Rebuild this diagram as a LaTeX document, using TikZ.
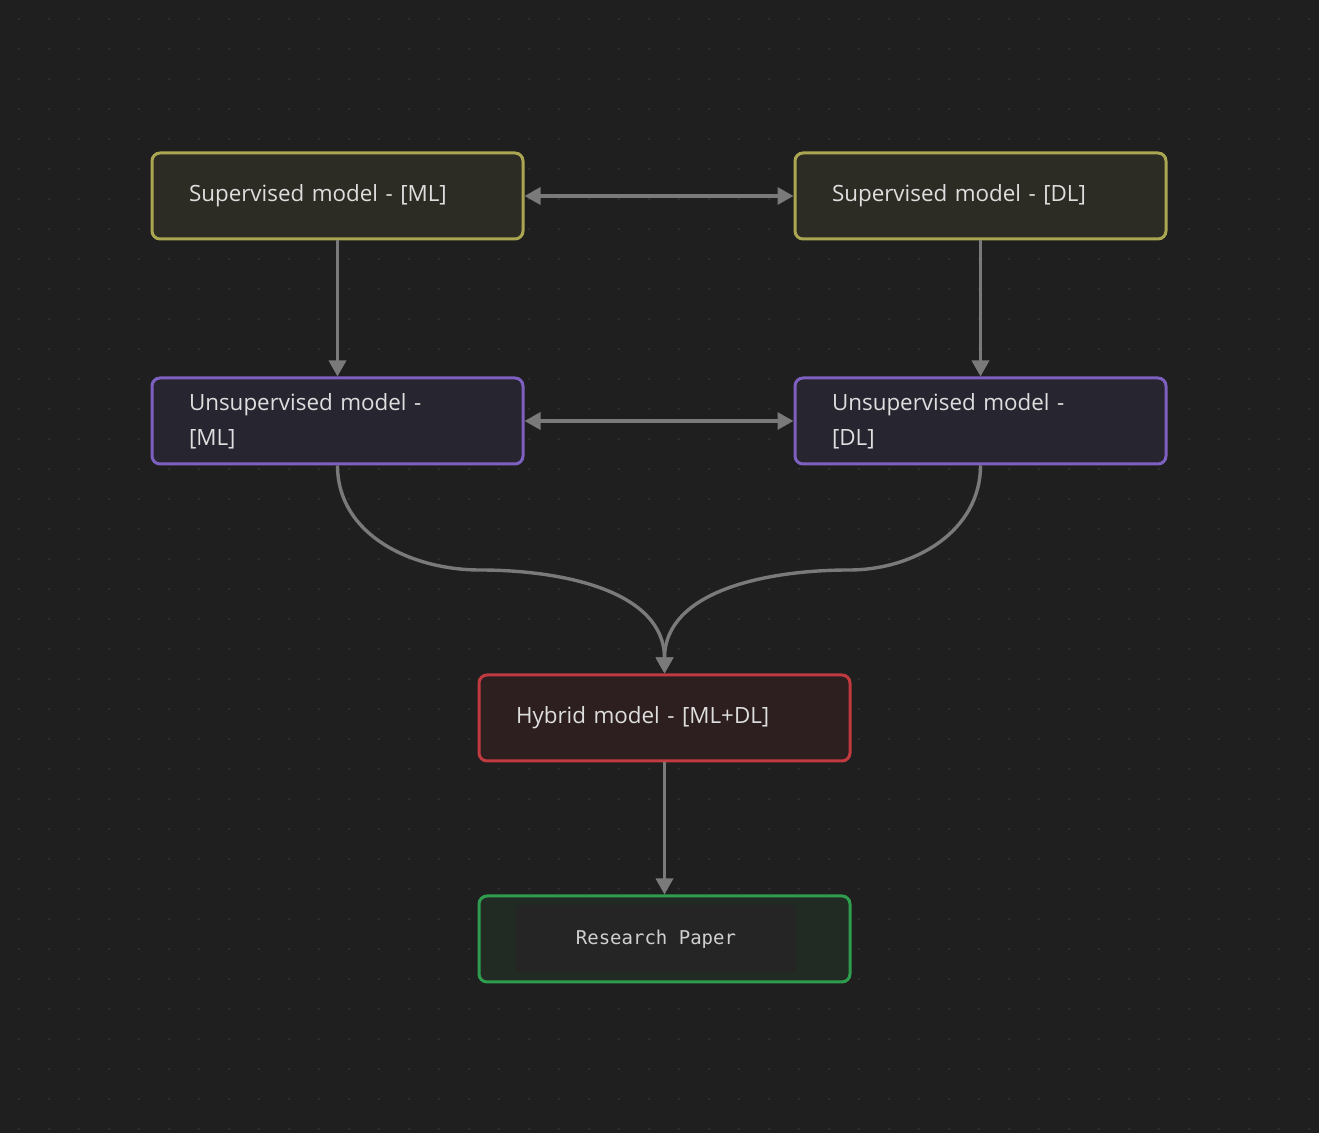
\documentclass[tikz,border=0pt]{standalone}
\usepackage{fontspec}
\setmainfont{Open Sans}
\setmonofont{DejaVu Sans Mono}
\usepackage{tikz}
\usetikzlibrary{arrows.meta}
\definecolor{cfond}{RGB}{31,31,31}
\definecolor{cpoint}{RGB}{46,46,46}
\definecolor{ctexte}{RGB}{222,222,222}
\definecolor{cfleche}{RGB}{122,122,122}
\definecolor{cjaune}{RGB}{170,166,82}
\definecolor{cjauneF}{RGB}{45,44,36}
\definecolor{cviolet}{RGB}{126,96,192}
\definecolor{cvioletF}{RGB}{39,37,48}
\definecolor{crouge}{RGB}{192,58,64}
\definecolor{crougeF}{RGB}{45,31,32}
\definecolor{cvert}{RGB}{46,158,78}
\definecolor{cvertF}{RGB}{34,42,36}
\definecolor{cpapier}{RGB}{37,37,37}

\begin{document}
\begin{tikzpicture}[x=0.5pt, y=-0.5pt, >={Triangle[length=8pt,width=8.5pt]},
  boite/.style={line width=1.5pt, rounded corners=4pt, minimum width=185.5pt,
    minimum height=43pt, text width=148.5pt, inner xsep=18.5pt, align=left,
    text=ctexte, font=\fontsize{11.2}{17.5}\selectfont},
  fleche/.style={cfleche, line width=1.7pt}]
\fill[cfond] (0,0) rectangle (1319,1133);
\useasboundingbox (0,0) rectangle (1319,1133);
\foreach \x in {19,49,...,1309}
  \foreach \y in {19,49,...,1129}
    \fill[cpoint] (\x-1,\y-1) rectangle (\x+1,\y+1);
\node[boite, draw=cjaune, fill=cjauneF] (sml) at (337.5,196) {Supervised model - [ML]};
\node[boite, draw=cjaune, fill=cjauneF] (sdl) at (980.5,196) {Supervised model - [DL]};
\node[boite, draw=cviolet, fill=cvioletF] (uml) at (337.5,421) {Unsupervised model -\\{}[ML]};
\node[boite, draw=cviolet, fill=cvioletF] (udl) at (980.5,421) {Unsupervised model -\\{}[DL]};
\node[boite, draw=crouge, fill=crougeF] (hyb) at (664.5,718) {Hybrid model - [ML+DL]};
\node[boite, draw=cvert, fill=cvertF] (rp) at (664.5,939) {};
\node[fill=cpapier, rounded corners=3pt, minimum width=140pt, minimum height=34pt,
  text=ctexte!85!gray, font=\ttfamily\fontsize{9.5}{11}\selectfont] (rptxt) at (656,939) {Research Paper};
\coordinate (cml) at (480,570);
\coordinate (cdl) at (849,570);
\draw[fleche, <->] (sml) -- (sdl);
\draw[fleche, <->] (uml) -- (udl);
\draw[fleche, ->] (sml) -- (uml);
\draw[fleche, ->] (sdl) -- (udl);
\draw[fleche, ->] (uml.south) to[out=-90, in=180] (cml) to[out=0, in=90] (hyb.north);
\draw[fleche, ->] (udl.south) to[out=-90, in=0] (cdl) to[out=180, in=90] (hyb.north);
\draw[fleche, ->] (hyb) -- (rp);
\end{tikzpicture}
\end{document}
